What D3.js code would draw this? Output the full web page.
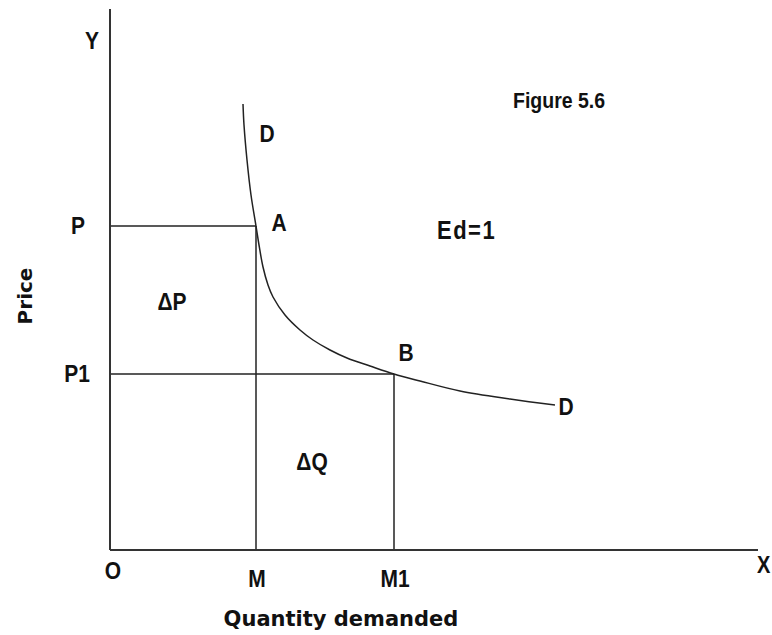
<!DOCTYPE html>
<html>
<head>
<meta charset="utf-8">
<script src="https://cdn.jsdelivr.net/npm/d3@7"></script>
<style>
  body { margin: 0; background: #fff; }
  svg { display: block; }
  .lbl { font-family: "Liberation Sans", Arial, sans-serif; font-weight: bold; fill: #111; }
  .ttl { font-family: "DejaVu Sans", Tahoma, sans-serif; font-weight: bold; fill: #111; }
</style>
</head>
<body>
<div id="chart"></div>
<script>
// demand curve D-D (quantity, price)
var curveQ = [133, 134, 137, 141, 146, 149, 153, 158, 163, 175, 190, 203, 220, 237, 260, 284, 310, 350, 400, 445];
var curveP = [446, 425, 390, 355, 324, 305, 283, 265, 253, 235, 220, 210, 200, 192, 184, 176, 169, 159, 151, 145];

// points A and B
var pointNames = ["A", "B"];
var pointQ = [146, 284];
var pointP = [324, 176];

// tick labels on each axis
var xTickLabels = ["O", "M", "M1"];
var xTickValues = [0, 146, 284];
var yTickLabels = ["P", "P1"];
var yTickValues = [324, 176];

var axisMaxQ = 648, axisMaxP = 541;

var svg = d3.select("#chart").append("svg").attr("width", 772).attr("height", 635),
    margin = {top: 9, right: 14, bottom: 85, left: 110},
    width = +svg.attr("width") - margin.left - margin.right,
    height = +svg.attr("height") - margin.top - margin.bottom;

var x = d3.scaleLinear().domain([0, axisMaxQ]).range([0, width]);
var y = d3.scaleLinear().domain([0, axisMaxP]).range([height, 0]);

var g = svg.append("g").attr("transform", "translate(" + margin.left + "," + margin.top + ")");

// text helper, the original letters look a little stretched upwards
function label(cls, txt, px, py, size, anchor, extra) {
    var t = g.append("text")
        .attr("class", cls)
        .attr("transform", "translate(" + px + "," + py + ") scale(1,1.15)")
        .attr("text-anchor", anchor || "middle")
        .attr("dominant-baseline", "central")
        .style("font-size", size + "px")
        .text(txt);
    if (extra) extra(t);
    return t;
}

// guide lines to P, P1 and down to M, M1
pointQ.forEach(function(q, i) {
    g.append("line")
        .attr("x1", x(0)).attr("x2", x(q))
        .attr("y1", y(pointP[i])).attr("y2", y(pointP[i]))
        .attr("stroke", "#222").attr("stroke-width", 1.5);
    g.append("line")
        .attr("x1", x(q)).attr("x2", x(q))
        .attr("y1", y(pointP[i])).attr("y2", y(0))
        .attr("stroke", "#222").attr("stroke-width", 1.5);
});

// the demand curve
var line = d3.line()
    .x(function(d) { return x(d[0]); })
    .y(function(d) { return y(d[1]); })
    .curve(d3.curveCatmullRom);

g.append("path")
    .datum(d3.zip(curveQ, curveP))
    .attr("fill", "none")
    .attr("stroke", "#222")
    .attr("stroke-width", 1.5)
    .attr("d", line);

// axes (just the lines)
g.append("line").attr("x1", x(0)).attr("x2", x(0)).attr("y1", y(0)).attr("y2", y(axisMaxP))
    .attr("stroke", "#333").attr("stroke-width", 2);
g.append("line").attr("x1", x(0)).attr("x2", x(axisMaxQ)).attr("y1", y(0)).attr("y2", y(0))
    .attr("stroke", "#333").attr("stroke-width", 2);

// tick labels
xTickLabels.forEach(function(t, i) {
    var off = i === 0 ? 21 : 29;
    label("lbl", t, x(xTickValues[i]) + (i === 0 ? 3 : 1), y(0) + off, 21);
});
yTickLabels.forEach(function(t, i) {
    label("lbl", t, x(0) - 32 + (i === 1 ? -1 : 0), y(yTickValues[i]), 21);
});
label("lbl", "Y", x(0) - 18, y(axisMaxP) + 32, 21);
label("lbl", "X", x(axisMaxQ) - 1, y(0) + 15, 20, "start");

// point labels
label("lbl", pointNames[0], x(pointQ[0]) + 23, y(pointP[0]) - 3, 21);
label("lbl", pointNames[1], x(pointQ[1]) + 12, y(pointP[1]) - 21, 21);
label("lbl", "D", x(curveQ[0]) + 24, y(curveP[0]) + 30, 21);
label("lbl", "D", x(curveQ[curveQ.length - 1]) + 11, y(curveP[curveP.length - 1]) + 2, 21);

// area labels
label("lbl", "\u0394P", x(pointQ[0] / 2) - 11, y((pointP[0] + pointP[1]) / 2) + 2, 21);
label("lbl", "\u0394Q", x((pointQ[0] + pointQ[1]) / 2) - 13, y(pointP[1] / 2) + 0, 21);

// other text
label("lbl", "Figure 5.6", 513 - margin.left, 100 - margin.top, 19.5, "start");
label("lbl", "Ed=1", 437 - margin.left, 230 - margin.top, 22, "start", function(t) { t.style("letter-spacing", "1.5px"); });

// axis titles
g.append("text")
    .attr("class", "ttl")
    .attr("text-anchor", "middle")
    .attr("x", 341 - margin.left)
    .attr("y", height + 76)
    .style("font-size", "21px")
    .text("Quantity demanded");

g.append("text")
    .attr("class", "ttl")
    .attr("text-anchor", "middle")
    .attr("transform", "translate(" + (-margin.left + 32) + "," + y(254) + ") rotate(-90)")
    .style("font-size", "20px")
    .text("Price");
</script>
</body>
</html>
